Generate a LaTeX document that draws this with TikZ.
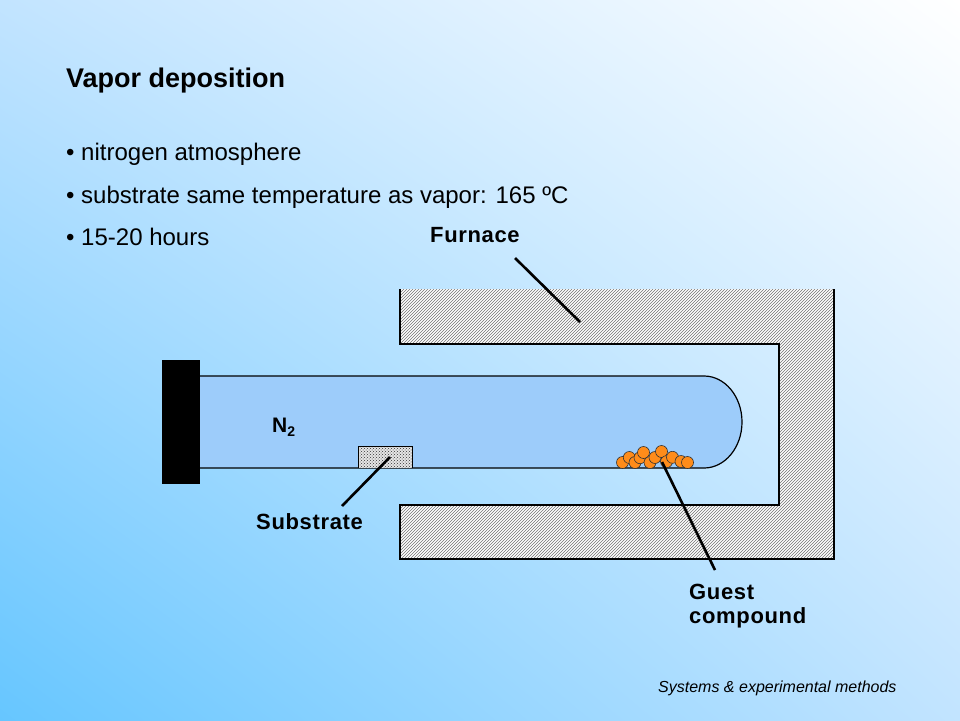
\documentclass[tikz,border=0pt]{standalone}
\usepackage{fontspec}
\setmainfont{Liberation Sans}
\newfontfamily\lblfont[LetterSpace=3]{Liberation Sans}
\usetikzlibrary{patterns,shadings}
\definecolor{bgA}{RGB}{102,198,255}
\definecolor{bgB}{RGB}{194,228,255}
\definecolor{tubefill}{RGB}{157,204,250}
\definecolor{guest}{RGB}{255,140,26}
\begin{document}
\begin{tikzpicture}[x=1pt,y=-1pt,
  lbl/.style={anchor=base west, inner sep=0pt, font=\lblfont\bfseries\fontsize{22}{26}\selectfont},
  bullet/.style={anchor=base west, inner sep=0pt, font=\fontsize{24}{28}\selectfont},
  leader/.style={line width=2.6pt, black},
  grain/.style={circle, draw=black!80, line width=0.6pt, fill=guest, minimum size=12pt, inner sep=0pt}]
\useasboundingbox (0,0) rectangle (960,720);
\shade[lower left=bgA, upper right=white, upper left=bgB, lower right=bgB] (0,0) rectangle (960,720);
% texts
\node[anchor=base west, inner sep=0pt, font=\bfseries\fontsize{27}{31}\selectfont] (title) at (66,87) {Vapor deposition};
\node[bullet] (b1) at (66,160) {• nitrogen atmosphere};
\node[bullet] (b2) at (66,203) {• substrate same temperature as vapor: 165 ºC};
\node[bullet] (b3) at (66,245) {• 15-20 hours};
\node[anchor=base west, inner sep=0pt, font=\itshape\fontsize{16}{19}\selectfont] (foot) at (658,692) {Systems \& experimental methods};
% furnace
\fill[white] (400,289) -- (834,289) -- (834,559) -- (400,559) -- (400,505) -- (779,505) -- (779,344) -- (400,344) -- cycle;
\fill[pattern=north east lines, pattern color=black!55] (400,289) -- (834,289) -- (834,559) -- (400,559) -- (400,505) -- (779,505) -- (779,344) -- (400,344) -- cycle;
\draw[line width=1.3pt] (834,289) -- (834,559) -- (400,559) -- (400,505) -- (779,505) -- (779,344) -- (400,344) -- (400,289);
% tube
\fill[tubefill] (200,376) -- (704,376) arc[start angle=-90, end angle=90, x radius=38, y radius=46] -- (200,468) -- cycle;
\draw[line width=1.2pt] (200,376) -- (704,376) arc[start angle=-90, end angle=90, x radius=38, y radius=46] -- (200,468);
\fill[black] (162,360) rectangle (200,484);
\node[anchor=base west, inner sep=0pt, font=\bfseries\fontsize{21}{25}\selectfont] (n2) at (272,432) {N\raisebox{-4pt}{\fontsize{14}{16}\selectfont 2}};
% substrate
\fill[gray!20] (358,446) rectangle (412,468);
\fill[pattern=crosshatch dots, pattern color=black!80] (358,446) rectangle (412,468);
\draw[line width=0.8pt] (358,468) -- (358,446) -- (412,446) -- (412,468);
% guest compound
\foreach \gx/\gy [count=\i] in {622.5/462.5, 629.3/457.5, 635/462.5, 640/457.7, 643.5/452.5, 650/462.5, 655/457.5, 661.5/451.5, 666.5/461.7, 672.5/457.3, 681/461.5, 687.5/462.5}
  \node[grain] (g\i) at (\gx,\gy) {};
% labels and leaders
\node[lbl] (furnace) at (430,242) {Furnace};
\node[lbl] (substrate) at (256,529) {Substrate};
\node[lbl] (guestA) at (689,599) {Guest};
\node[lbl] (guestB) at (689,623) {compound};
\coordinate (fA) at (515,258);
\coordinate (fB) at (580,322);
\coordinate (sA) at (342,506);
\coordinate (sB) at (390,457);
\coordinate (gA) at (715,570);
\coordinate (gB) at (662,462);
\draw[leader] (fA) -- (fB);
\draw[leader] (sA) -- (sB);
\draw[leader] (gA) -- (gB);
\end{tikzpicture}
\end{document}
